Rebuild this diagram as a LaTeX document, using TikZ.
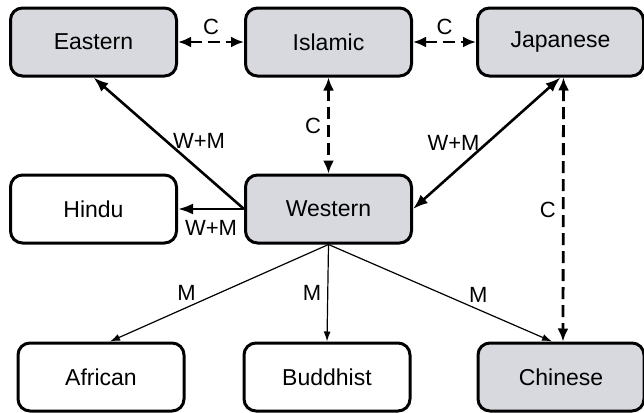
\documentclass[tikz,border=0pt]{standalone}
\usepackage{fontspec}
\setmainfont{Liberation Sans}
\usetikzlibrary{arrows.meta, calc}
\definecolor{box-gray}{RGB}{216,217,223}
\tikzset{
    culture-box/.style={
        draw, rounded corners=6pt, line width=1.5pt, minimum width=83pt, minimum height=34pt, inner sep=0pt, font=\fontsize{11.5}{13}\selectfont
    },
    culture-box-gray/.style={
        culture-box, fill=box-gray
    },
    link-label/.style={
        font=\fontsize{11}{13}\selectfont, inner sep=3pt
    },
    link-wm/.style={
        line width=1.3pt, -{Latex[length=7.5pt,width=5.5pt]}
    },
    link-m/.style={
        line width=0.6pt, -{Latex[length=5pt,width=3.5pt]}
    },
    link-c/.style={
        line width=1.4pt, dash pattern=on 6pt off 3pt, {Latex[length=6.5pt,width=5.5pt]}-{Latex[length=6.5pt,width=5.5pt]}
    },
}

\begin{document}
\begin{tikzpicture}[x=0.5pt, y=-0.5pt]

        \useasboundingbox (0,0) rectangle (644,413);

        % TOP ROW
        \node[culture-box-gray] (Eastern)  at (93.5,42)  {Eastern};
        \node[culture-box-gray] (Islamic)  at (328.5,42) {Islamic};
        \node[culture-box-gray] (Japanese) at (560.5,42) {Japanese};

        % MIDDLE ROW
        \node[culture-box]      (Hindu)    at (93.5,209)  {Hindu};
        \node[culture-box-gray] (Western)  at (328.5,209) {Western};

        % BOTTOM ROW
        \node[culture-box]      (African)  at (101,377) {African};
        \node[culture-box]      (Buddhist) at (327,377) {Buddhist};
        \node[culture-box-gray] (Chinese)  at (561,377) {Chinese};

        % C CONNECTIONS
        \draw[link-c] (Eastern.east) -- node[link-label, above] (CEI) {C} (Islamic.west);
        \draw[link-c] (Islamic.east) -- node[link-label, above] (CIJ) {C} (Japanese.west);
        \draw[link-c] (Islamic.south) -- node[link-label, left] (CIW) {C} (Western.north);
        \coordinate (JAPOUT) at ($(Japanese.south) + (3,0)$);
        \coordinate (CHIIN)  at ($(Chinese.north)  + (2,0)$);
        \draw[link-c] (JAPOUT) -- node[link-label, left] (CJC) {C} (CHIIN);

        % W+M CONNECTIONS
        \draw[link-wm] (Western.west) -- node[link-label, pos=0.52, right] (WME) {W+M} (Eastern.south);
        \draw[link-wm] (Western.west) -- node[link-label, below, yshift=-2pt] (WMH) {W+M} (Hindu.east);
        \draw[link-wm, {Latex[length=7.5pt,width=5.5pt]}-{Latex[length=7.5pt,width=5.5pt]}] (Western.east) -- node[link-label, left] (WMJ) {W+M} (Japanese.south);

        % M CONNECTIONS
        \coordinate (AFRIN) at ($(African.north) + (9,0)$);
        \coordinate (CHIM)  at ($(Chinese.north) + (-9,0)$);
        \draw[link-m] (Western.south) -- node[link-label, pos=0.65, above] (MA) {M} (AFRIN);
        \draw[link-m] (Western.south) -- node[link-label, left] (MB) {M} (Buddhist.north);
        \draw[link-m] (Western.south) -- node[link-label, pos=0.67, above] (MC) {M} (CHIM);

    \end{tikzpicture}
\end{document}
